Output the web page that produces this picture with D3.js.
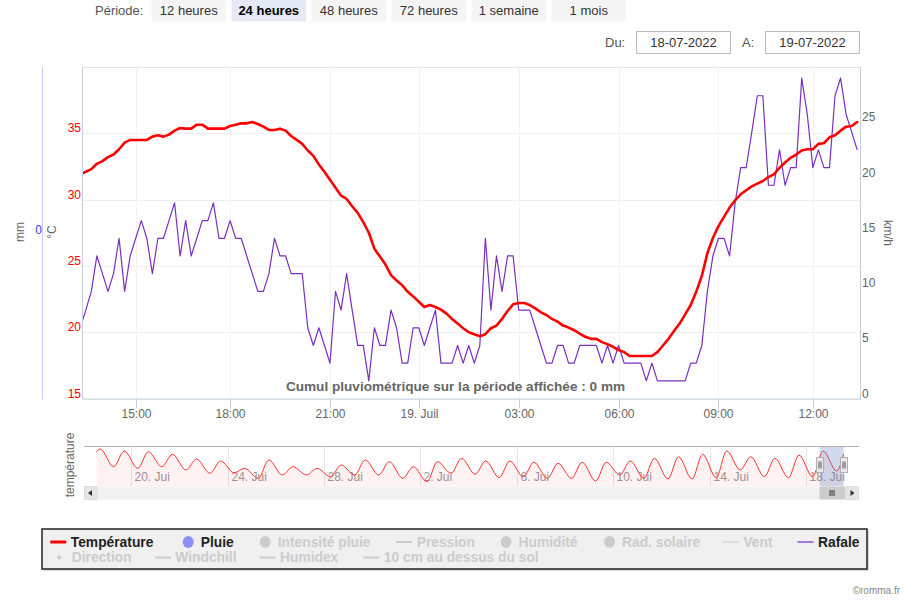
<!DOCTYPE html>
<html><head><meta charset="utf-8">
<script src="https://cdn.jsdelivr.net/npm/d3@7"></script>
<style>
html,body{margin:0;padding:0;background:#fff;}
svg{display:block;font-family:"Liberation Sans",Arial,sans-serif;}
</style></head><body>
<svg id="c" width="910" height="600"></svg>
<script>
// ---------- DATA ----------
const periodButtons = ["12 heures","24 heures","48 heures","72 heures","1 semaine","1 mois"];
const activePeriod = "24 heures";
const dateFrom = "18-07-2022";
const dateTo = "19-07-2022";

// 10-minute samples (a few missing samples, as shown by the ordinal axis)
const sampleStart = "2022-07-18 13:20";
const sampleEnd = "2022-07-19 13:20";
const missingSamples = ["2022-07-18 16:30","2022-07-18 22:30","2022-07-18 23:30","2022-07-19 10:30"];
const windowStart = "2022-07-18 13:25";
const windowEnd = "2022-07-19 13:25";

const temperature = [
  31.9,
  32.1, 32.3, 32.7, 32.9, 33.2, 33.4, 33.8, 34.3, 34.5, 34.5,
  34.5, 34.5, 34.75, 34.85, 34.75, 34.9, 35.2, 35.4, 35.35, 35.35,
  35.65, 35.65, 35.35, 35.35, 35.35, 35.35, 35.55, 35.65, 35.75, 35.75,
  35.85, 35.7, 35.5, 35.25, 35.25, 35.35, 35.2, 34.8, 34.5, 34.2,
  33.7, 33.3, 32.65, 32.1, 31.5, 30.9, 30.3, 30.05, 29.5, 29.0,
  28.3, 27.5, 26.3, 25.7, 25.1, 24.3, 23.9, 23.55, 23.05, 22.7,
  22.3, 21.9, 22.05, 21.9, 21.7, 21.4, 21.0, 20.65, 20.3, 20.0,
  19.85, 19.7, 19.85, 20.3, 20.5, 21.0, 21.6, 22.1, 22.2, 22.2,
  22.05, 21.8, 21.5, 21.3, 21.0, 20.8, 20.5, 20.35, 20.15, 19.9,
  19.65, 19.5, 19.5, 19.25, 19.1, 18.9, 18.65, 18.5, 18.2, 18.2,
  18.2, 18.2, 18.2, 18.5, 19.0, 19.5, 20.1, 20.65, 21.35, 22.05,
  23.05, 24.25, 25.95, 27.1, 28.0, 28.7, 29.4, 29.95, 30.4, 30.7,
  31.0, 31.2, 31.4, 31.7, 31.9, 32.4, 32.8, 33.15, 33.4, 33.7,
  33.8, 33.8, 34.2, 34.25, 34.7, 34.85, 35.2, 35.5, 35.55, 35.85
];

const rafale = [
  6.4, 8.0, 9.7, 12.9, 11.3, 9.7, 11.3, 14.5, 9.7, 12.9, 14.5,
  16.1, 14.5, 11.3, 14.5, 14.5, 16.1, 17.7, 12.9, 16.1, 12.9,
  14.5, 16.1, 16.1, 17.7, 14.5, 14.5, 16.1, 14.5, 14.5, 12.9,
  11.3, 9.7, 9.7, 11.3, 14.5, 12.9, 12.9, 11.3, 11.3, 11.3,
  6.4, 4.8, 6.4, 4.8, 3.2, 9.7, 8.0, 11.3, 8.0, 4.8,
  4.8, 1.6, 6.4, 4.8, 4.8, 8.0, 6.4, 3.2, 3.2, 6.4,
  6.4, 4.8, 6.4, 8.0, 3.2, 3.2, 3.2, 4.8, 3.2, 4.8,
  3.2, 4.8, 14.5, 8.0, 12.9, 9.7, 12.9, 12.9, 8.0, 8.0,
  8.0, 6.4, 4.8, 3.2, 3.2, 4.8, 4.8, 3.2, 3.2, 4.8,
  4.8, 4.8, 4.8, 3.2, 4.8, 3.2, 4.8, 3.2, 3.2, 3.2,
  3.2, 1.6, 3.2, 1.6, 1.6, 1.6, 1.6, 1.6, 1.6, 3.2,
  3.2, 4.8, 9.7, 12.9, 14.5, 14.5, 12.9, 17.7, 20.9, 20.9,
  24.1, 27.4, 27.4, 19.3, 19.3, 22.5, 19.3, 20.9, 20.9, 29.0,
  25.7, 20.9, 22.5, 20.9, 20.9, 27.4, 29.0, 25.7, 24.1, 22.5
];

const tempTicks = [15, 20, 25, 30, 35];
const tempDomain = [15, 40];
const windTicks = [0, 5, 10, 15, 20, 25];
const windDomain = [0, 30];
const rainTicks = [0];
const xTickTimes = ["2022-07-18 15:00","2022-07-18 18:00","2022-07-18 21:00","2022-07-19 00:00",
                    "2022-07-19 03:00","2022-07-19 06:00","2022-07-19 09:00","2022-07-19 12:00"];
const xTickLabels = ["15:00","18:00","21:00","19. Juil","03:00","06:00","09:00","12:00"];
const rainNote = "Cumul pluviométrique sur la période affichée : 0 mm";

// navigator (1 month of temperature: daily max ~17:00, daily min ~06:30)
const navStart = "2022-06-18 13:25";
const navEnd = "2022-07-19 13:25";
const navStartValue = 35.2;
const navEndValue = 33.0;
const navMaxDays = ["2022-06-18","2022-06-19","2022-06-20","2022-06-21","2022-06-22","2022-06-23","2022-06-24",
  "2022-06-25","2022-06-26","2022-06-27","2022-06-28","2022-06-29","2022-06-30","2022-07-01","2022-07-02",
  "2022-07-03","2022-07-04","2022-07-05","2022-07-06","2022-07-07","2022-07-08","2022-07-09","2022-07-10",
  "2022-07-11","2022-07-12","2022-07-13","2022-07-14","2022-07-15","2022-07-16","2022-07-17","2022-07-18"];
const navMax = [37.5, 35.8, 35.2, 32.9, 28.8, 27.1, 20.7, 28.0, 22.1, 20.7, 23.6, 28.0, 26.5, 22.1, 26.5,
  29.4, 27.1, 27.1, 26.0, 25.1, 26.0, 26.0, 27.1, 29.4, 30.8, 32.9, 35.8, 30.8, 29.4, 32.3, 35.8];
const navMinDays = ["2022-06-19","2022-06-20","2022-06-21","2022-06-22","2022-06-23","2022-06-24","2022-06-25",
  "2022-06-26","2022-06-27","2022-06-28","2022-06-29","2022-06-30","2022-07-01","2022-07-02","2022-07-03",
  "2022-07-04","2022-07-05","2022-07-06","2022-07-07","2022-07-08","2022-07-09","2022-07-10","2022-07-11",
  "2022-07-12","2022-07-13","2022-07-14","2022-07-15","2022-07-16","2022-07-17","2022-07-18","2022-07-19"];
const navMin = [22.1, 20.7, 22.1, 19.3, 16.4, 16.8, 12.0, 14.9, 14.9, 13.4, 14.9, 14.9, 12.0, 9.1, 16.4,
  15.5, 12.6, 13.4, 12.0, 12.0, 9.7, 14.9, 12.0, 11.4, 11.4, 12.6, 19.3, 13.4, 12.6, 13.4, 18.4];
const navTickDates = ["2022-06-20","2022-06-24","2022-06-28","2022-07-02","2022-07-06","2022-07-10","2022-07-14","2022-07-18"];
const navTickLabels = ["20. Jui","24. Jui","28. Jui","2. Jui","6. Jui","10. Jui","14. Jui","18. Jui"];
const navDomain = [5.3, 40.15];

const legendRow1 = ["Température","Pluie","Intensité pluie","Pression","Humidité","Rad. solaire","Vent","Rafale"];
const legendRow2 = ["Direction","Windchill","Humidex","10 cm au dessus du sol"];

// ---------- STYLE / LAYOUT ----------
const C = {red:"#ff0000", purple:"#7a2fc0", axis:"#c0d0e0", grid:"#eeeeee", label:"#666", inactive:"#cccccc"};
const P = {left:83, right:860, top:67, bottom:398.5};
const parseT = d3.timeParse("%Y-%m-%d %H:%M");
const parseD = d3.timeParse("%Y-%m-%d");
const svg = d3.select("#c");

// ---------- TOP CONTROLS ----------
svg.append("text").attr("x",95).attr("y",15).attr("font-size",13).attr("fill","#555").text("Période:");
periodButtons.forEach((b,i)=>{
  const act = b===activePeriod;
  const g = svg.append("g").attr("transform",`translate(${151.5+i*80},0)`);
  g.append("rect").attr("width",74.5).attr("height",21.5).attr("fill",act?"#e4e9f5":"#f5f5f5");
  g.append("text").attr("x",37.25).attr("y",14.5).attr("text-anchor","middle").attr("font-size",13)
    .attr("font-weight",act?"bold":"normal").attr("fill",act?"#000":"#333").text(b);
});
[[605,636,"Du:",dateFrom],[742,765,"A:",dateTo]].forEach(([lx,bx,lab,val])=>{
  svg.append("text").attr("x",lx).attr("y",47).attr("font-size",13).attr("fill","#555").text(lab);
  svg.append("rect").attr("x",bx+0.5).attr("y",31.5).attr("width",94).attr("height",22).attr("fill","#fff").attr("stroke","#bbb");
  svg.append("text").attr("x",bx+47.5).attr("y",47).attr("text-anchor","middle").attr("font-size",13).attr("fill","#333").text(val);
});

// ---------- SCALES ----------
const missSet = new Set(missingSamples.map(s=>+parseT(s)));
const times = d3.timeMinute.every(10).range(parseT(sampleStart), new Date(+parseT(sampleEnd)+1)).filter(t=>!missSet.has(+t));
const idx = d3.scaleTime().domain(times).range(times.map((_,i)=>i));
const xPix = d3.scaleLinear().domain([idx(parseT(windowStart)), idx(parseT(windowEnd))]).range([P.left,P.right]);
const x = t => xPix(idx(t));
const yT = d3.scaleLinear().domain(tempDomain).range([P.bottom,P.top]);
const yW = d3.scaleLinear().domain(windDomain).range([P.bottom,P.top]);
const yR = d3.scaleLinear().domain([-1,1]).range([P.bottom,P.top]);

// ---------- GRID ----------
const grid = svg.append("g");
tempTicks.concat([40]).forEach(v=>{
  grid.append("line").attr("x1",P.left).attr("x2",P.right).attr("y1",Math.round(yT(v))+0.5).attr("y2",Math.round(yT(v))+0.5)
    .attr("stroke", v===40 ? "#dde6ee" : C.grid);
});
const xTicks = xTickTimes.map(parseT);
xTicks.forEach(t=>{
  const px = Math.round(x(t))+0.5;
  grid.append("line").attr("x1",px).attr("x2",px).attr("y1",P.top).attr("y2",P.bottom).attr("stroke","#f2f2f2");
});

// axis lines
svg.append("line").attr("x1",P.left-0.5).attr("x2",P.left-0.5).attr("y1",P.top).attr("y2",P.bottom+1).attr("stroke",C.axis);
svg.append("line").attr("x1",P.right+0.5).attr("x2",P.right+0.5).attr("y1",P.top).attr("y2",P.bottom+1).attr("stroke",C.axis);
svg.append("line").attr("x1",42.5).attr("x2",42.5).attr("y1",P.top).attr("y2",P.bottom+1).attr("stroke","#c0d0f0");
svg.append("line").attr("x1",P.left).attr("x2",P.right+1).attr("y1",P.bottom+0.5).attr("y2",P.bottom+0.5).attr("stroke",C.axis);

// x axis ticks & labels
xTicks.forEach((t,i)=>{
  const px = Math.round(x(t))+0.5;
  svg.append("line").attr("x1",px).attr("x2",px).attr("y1",P.bottom+1).attr("y2",P.bottom+10).attr("stroke",C.axis);
  svg.append("text").attr("x",px).attr("y",418).attr("text-anchor","middle").attr("font-size",12).attr("fill",C.label).text(xTickLabels[i]);
});

// y axes labels
tempTicks.forEach(v=>{
  svg.append("text").attr("x",81).attr("y",yT(v)-1).attr("text-anchor","end").attr("font-size",12).attr("fill",C.red).text(v);
});
windTicks.forEach(v=>{
  svg.append("text").attr("x",862).attr("y",yW(v)-1).attr("font-size",12).attr("fill",C.label).text(v);
});
rainTicks.forEach(v=>{
  svg.append("text").attr("x",42).attr("y",yR(v)+1).attr("text-anchor","end").attr("font-size",12).attr("fill","#3344ee").text(v);
});
const axTitle = (cx,cy,rot,txt)=>svg.append("text").attr("transform",`translate(${cx},${cy}) rotate(${rot})`)
  .attr("text-anchor","middle").attr("dy","0.35em").attr("font-size",12).attr("fill",C.label).text(txt);
axTitle(20,232,-90,"mm");
axTitle(52,232,-90,"°C");
axTitle(888,233,90,"km/h");

// ---------- SERIES ----------
svg.append("defs").append("clipPath").attr("id","clip").append("rect")
  .attr("x",P.left).attr("y",P.top-2).attr("width",P.right-P.left).attr("height",P.bottom-P.top+2);
const series = svg.append("g").attr("clip-path","url(#clip)");
const n = Math.min(times.length, temperature.length, rafale.length);
const windLine = d3.line().x((d,i)=>x(times[i])).y(d=>yW(d));
series.append("path").datum(rafale.slice(0,n)).attr("d",windLine).attr("fill","none").attr("stroke",C.purple).attr("stroke-width",1.2).attr("stroke-linejoin","round");
const tempLine = d3.line().x((d,i)=>x(times[i])).y(d=>yT(d));
series.append("path").datum(temperature.slice(0,n)).attr("d",tempLine).attr("fill","none").attr("stroke",C.red).attr("stroke-width",2.6).attr("stroke-linejoin","round").attr("stroke-linecap","round");

svg.append("text").attr("x",455.5).attr("y",390.5).attr("text-anchor","middle").attr("font-size",13.6).attr("font-weight","bold").attr("fill","#666").text(rainNote);

// ---------- NAVIGATOR ----------
const N = {top:446, bottom:486};
const xN = d3.scaleTime().domain([parseT(navStart), parseT(navEnd)]).range([96.5, 843.6]);
const yN = d3.scaleLinear().domain(navDomain).range([N.bottom, N.top]);
const navPts = [{t:parseT(navStart), v:navStartValue}];
navMaxDays.forEach((d,i)=>navPts.push({t:d3.timeMinute.offset(parseD(d), 17*60), v:navMax[i]}));
navMinDays.forEach((d,i)=>navPts.push({t:d3.timeMinute.offset(parseD(d), 6*60+30), v:navMin[i]}));
navPts.push({t:parseT(navEnd), v:navEndValue});
navPts.sort((a,b)=>a.t-b.t);
navTickDates.forEach((d,i)=>{
  const px = Math.round(xN(parseD(d)))+0.5;
  svg.append("line").attr("x1",px).attr("x2",px).attr("y1",N.top).attr("y2",N.bottom).attr("stroke","#e6e6e6");
  svg.append("text").attr("x",px+3).attr("y",481).attr("font-size",12).attr("fill","#999").text(navTickLabels[i]);
});
svg.append("path").datum(navPts).attr("d",d3.area().x(d=>xN(d.t)).y0(N.bottom).y1(d=>yN(d.v)).curve(d3.curveMonotoneX))
  .attr("fill","rgba(255,0,0,0.05)");
svg.append("path").datum(navPts).attr("d",d3.line().x(d=>xN(d.t)).y(d=>yN(d.v)).curve(d3.curveMonotoneX))
  .attr("fill","none").attr("stroke","#ff3030").attr("stroke-width",1);
const selX0 = xN(parseT(windowStart)), selX1 = xN(parseT(windowEnd));
svg.append("rect").attr("x",selX0).attr("y",N.top).attr("width",selX1-selX0).attr("height",N.bottom-N.top).attr("fill","rgba(102,133,194,0.3)");
svg.append("line").attr("x1",84).attr("x2",859).attr("y1",N.top+0.5).attr("y2",N.top+0.5).attr("stroke","#b2b2b2");
[selX0, selX1].forEach(hx=>{
  const g = svg.append("g").attr("transform",`translate(${Math.round(hx)-3.5},457.5)`);
  g.append("rect").attr("width",7).attr("height",15).attr("fill","#ebe7e8").attr("stroke","#b2b1b6");
  g.append("line").attr("x1",2.5).attr("x2",2.5).attr("y1",4).attr("y2",11).attr("stroke","#555");
  g.append("line").attr("x1",4.5).attr("x2",4.5).attr("y1",4).attr("y2",11).attr("stroke","#555");
});
axTitle(70,465,-90,"température");

// scrollbar
svg.append("rect").attr("x",84).attr("y",486.5).attr("width",775).attr("height",13).attr("fill","#f2f2f2");
svg.append("rect").attr("x",84.5).attr("y",486.5).attr("width",12.5).attr("height",13).attr("fill","#e6e6e6").attr("stroke","#ddd");
svg.append("rect").attr("x",846).attr("y",486.5).attr("width",12.5).attr("height",13).attr("fill","#e6e6e6").attr("stroke","#ddd");
svg.append("path").attr("d","M92,490 L88,493 L92,496 Z").attr("fill","#333");
svg.append("path").attr("d","M850.5,490 L854.5,493 L850.5,496 Z").attr("fill","#333");
svg.append("rect").attr("x",selX0).attr("y",486.5).attr("width",selX1-selX0+1.5).attr("height",13).attr("fill","#cccccc");
[-2,0,2].forEach(o=>svg.append("line").attr("x1",(selX0+selX1)/2+o+0.5).attr("x2",(selX0+selX1)/2+o+0.5).attr("y1",490).attr("y2",496).attr("stroke","#333"));

// ---------- LEGEND ----------
svg.append("rect").attr("x",43).attr("y",530).attr("width",826).attr("height",41).attr("fill","#bbb").attr("opacity",0.5);
svg.append("rect").attr("x",42).attr("y",529).attr("width",825).attr("height",40).attr("fill","#f0f0f0").attr("stroke","#222").attr("stroke-width",1.5);
const row1X = [50.3, 180.2, 257.2, 396.2, 498, 601.5, 722.9, 797.5];
const row1Sym = ["line","circle","circle","line","circle","circle","line","line"];
const row1Col = [C.red, "#8f8ff5", C.inactive, C.inactive, C.inactive, C.inactive, "#dddddd", "#a57bd6"];
const row1Act = [true,true,false,false,false,false,false,true];
const row2X = [51.3, 154.8, 259.5, 363.3];
const row2Sym = ["dot","line","line","line"];
function legendItem(name, lx, cy, sym, col, act){
  const g = svg.append("g");
  if(sym==="line") g.append("line").attr("x1",lx).attr("x2",lx+16).attr("y1",cy).attr("y2",cy).attr("stroke",col).attr("stroke-width",name==="Température"?3:2);
  else if(sym==="circle") g.append("ellipse").attr("cx",lx+8).attr("cy",cy).attr("rx",5.5).attr("ry",6).attr("fill",col);
  else g.append("circle").attr("cx",lx+8).attr("cy",cy).attr("r",2).attr("fill",col);
  g.append("text").attr("x",lx+20.5).attr("y",cy+4.5).attr("font-size",13.8).attr("font-weight","bold").attr("fill",act?"#222":C.inactive).text(name);
}
legendRow1.forEach((n,i)=>legendItem(n,row1X[i],542,row1Sym[i],row1Col[i],row1Act[i]));
legendRow2.forEach((n,i)=>legendItem(n,row2X[i],557.5,row2Sym[i],C.inactive,false));

svg.append("text").attr("x",900).attr("y",594).attr("text-anchor","end").attr("font-size",10).attr("fill","#888").text("©romma.fr");
</script>
</body></html>
